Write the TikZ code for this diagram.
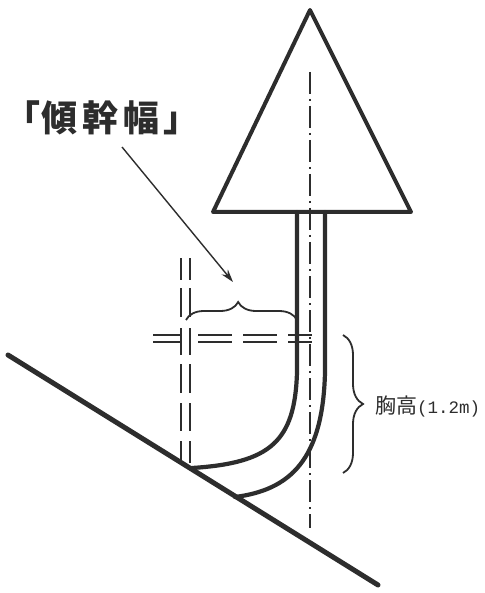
\documentclass[tikz,border=0pt]{standalone}
\usepackage{fontspec}
\newfontfamily\jp{Noto Sans CJK JP}
\newfontfamily\jpmono{Liberation Mono}
\usetikzlibrary{decorations.pathreplacing,arrows.meta}
\definecolor{ink}{RGB}{45,45,45}
\begin{document}
\begin{tikzpicture}[x=1pt,y=-1pt,
  outline/.style={draw=ink,line width=4pt,line join=round,line cap=round},
  trunkline/.style={draw=ink,line width=4.2pt,line cap=round},
  groundline/.style={draw=ink,line width=5pt,line cap=round},
  axisline/.style={draw=ink,line width=2pt,dash pattern=on 22pt off 5pt on 2pt off 5pt},
  vguide/.style={draw=ink,line width=2.4pt,dash pattern=on 22pt off 8pt on 29pt off 11pt on 27pt off 9pt on 29pt off 10pt on 28pt off 10pt},
  hguide/.style={draw=ink,line width=2.4pt,dash pattern=on 29pt off 16pt on 34pt off 11pt on 34pt off 11pt on 24pt off 50pt},
  bracestyle/.style={draw=ink,line width=1.8pt,decorate},
  pointer/.style={draw=ink,line width=1.4pt,-{Stealth[length=13pt,width=8pt]}},
  label/.style={inner sep=0pt,text=ink}]
\useasboundingbox (0,0) rectangle (484,593);
\fill[white] (0,0) rectangle (484,593);

% crown
\coordinate (apex) at (310,10);
\coordinate (bl) at (213,212);
\coordinate (br) at (411,212);
\draw[outline] (apex) -- (bl) -- (br) -- cycle;

% vertical axis of the tree
\coordinate (axtop) at (310,72);
\coordinate (axbot) at (310,528);
\draw[axisline] (axtop) -- (axbot);

% ground slope
\coordinate (g1) at (8,355);
\coordinate (g2) at (378,585);
\draw[groundline] (g1) -- (g2);

% curved trunk
\coordinate (ti) at (297,212);
\coordinate (to) at (325,212);
\coordinate (bi) at (192,468);
\coordinate (bo) at (235,497);
\draw[trunkline] (ti) -- (297,372) .. controls (295,442) and (270,463) .. (bi);
\draw[trunkline] (to) -- (325,372) .. controls (323,460) and (290,490) .. (bo);

% vertical guide at the base
\coordinate (va1) at (181,258);
\coordinate (va2) at (181,466);
\coordinate (vb1) at (190,258);
\coordinate (vb2) at (190,470);
\draw[vguide] (va1) -- (va2);
\draw[vguide] (vb1) -- (vb2);

% horizontal guide at breast height
\coordinate (ha1) at (153,335);
\coordinate (ha2) at (312,335);
\coordinate (hb1) at (153,342);
\coordinate (hb2) at (312,342);
\draw[hguide] (ha1) -- (ha2);
\draw[hguide] (hb1) -- (hb2);

% lean width brace
\coordinate (lw1) at (186,320);
\coordinate (lw2) at (297,320);
\draw[bracestyle,decoration={brace,amplitude=18pt,aspect=0.47}] (lw1) -- (lw2);

% breast height brace
\coordinate (bh1) at (343,335);
\coordinate (bh2) at (343,473);
\draw[bracestyle,decoration={brace,amplitude=20pt,aspect=0.5}] (bh1) -- (bh2);

% labels
\node[label,anchor=west,font=\jp\bfseries\fontsize{36}{36}\selectfont] (lean) at (4,118)
  {「\kern1pt 傾\kern5pt 幹\kern5pt 幅\kern4pt 」};
\node[label,anchor=west] (height) at (375,406) {{\jp\fontsize{21}{21}\selectfont 胸高}{\jpmono\fontsize{17.5}{18}\selectfont (1.2m)}};

% pointer from the label to the brace
\coordinate (ptip) at (233,282);
\coordinate (pstart) at (122,147);
\draw[pointer] (pstart) -- (ptip);
\end{tikzpicture}
\end{document}
